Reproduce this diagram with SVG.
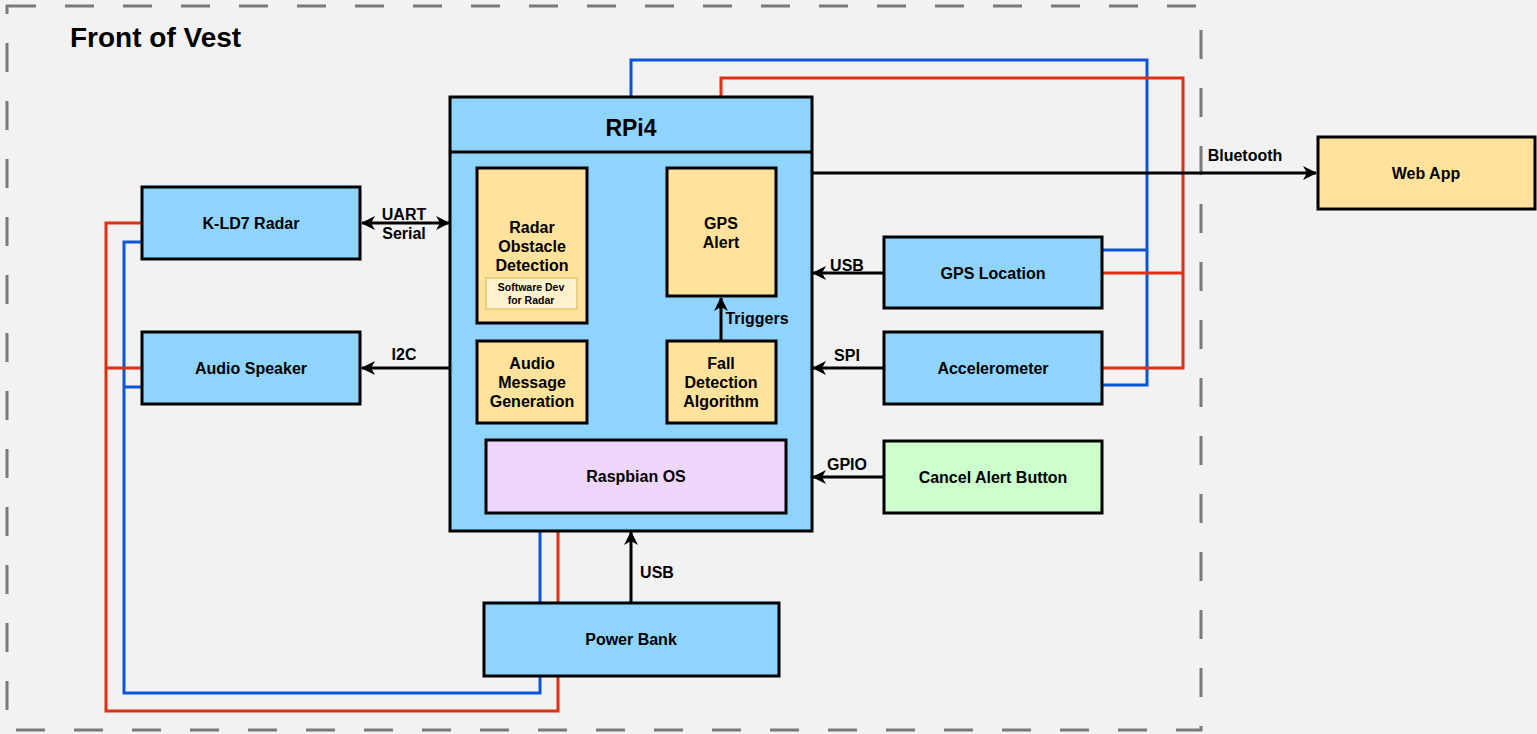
<svg xmlns="http://www.w3.org/2000/svg" width="1537" height="734" viewBox="0 0 1537 734">
<style>
text{font-family:"Liberation Sans",Arial,sans-serif;font-weight:bold;fill:#000}
.n{font-size:16px;text-anchor:middle}
.l{font-size:16px;text-anchor:middle}
.blue{fill:#8fd4fc;stroke:#000;stroke-width:3}
.yel{fill:#ffe29b;stroke:#000;stroke-width:3}
.pw{fill:none;stroke-width:3}
.b{stroke:#0a56d8}
.r{stroke:#de2f10}
.k{fill:none;stroke:#000;stroke-width:3}
</style>
<defs>
<marker id="ah" viewBox="0 0 14 14" refX="13" refY="7" markerWidth="14" markerHeight="14" markerUnits="userSpaceOnUse" orient="auto-start-reverse">
<path d="M0,0 L14,7 L0,14 L4,7 z" fill="#000"/>
</marker>
</defs>
<rect width="1537" height="734" fill="#f2f2f2"/>
<rect x="7" y="6" width="1194" height="724" fill="none" stroke="#7a7a7a" stroke-width="3" stroke-dasharray="29 29"/>
<text x="70" y="47" style="font-size:28px">Front of Vest</text>

<g id="connectors">
<polyline class="pw b" points="631,97 631,60 1147,60 1147,385 1102,385"/>
<polyline class="pw b" points="1102,250 1147,250"/>
<polyline class="pw r" points="721,97 721,78 1183,78 1183,368 1102,368"/>
<polyline class="pw r" points="1102,273 1183,273"/>
<polyline class="pw b" points="540,531 540,603"/>
<polyline class="pw r" points="558,531 558,603"/>
<polyline class="pw b" points="540,676 540,693 124,693 124,242 142,242"/>
<polyline class="pw b" points="124,387 142,387"/>
<polyline class="pw r" points="558,676 558,711 106,711 106,223 142,223"/>
<polyline class="pw r" points="106,368 142,368"/>
<line class="k" x1="362" y1="223" x2="449" y2="223" marker-start="url(#ah)" marker-end="url(#ah)"/>
<text class="l" x="404" y="220">UART</text>
<text class="l" x="404" y="239">Serial</text>
<line class="k" x1="449" y1="368" x2="362" y2="368" marker-end="url(#ah)"/>
<text class="l" x="404" y="360">I2C</text>
<line class="k" x1="812" y1="173" x2="1316" y2="173" marker-end="url(#ah)"/>
<text class="l" x="1245" y="161">Bluetooth</text>
<line class="k" x1="884" y1="273" x2="813" y2="273" marker-end="url(#ah)"/>
<text class="l" x="847" y="271">USB</text>
<line class="k" x1="884" y1="368" x2="813" y2="368" marker-end="url(#ah)"/>
<text class="l" x="847" y="361">SPI</text>
<line class="k" x1="884" y1="477" x2="813" y2="477" marker-end="url(#ah)"/>
<text class="l" x="847" y="470">GPIO</text>
<line class="k" x1="631" y1="603" x2="631" y2="532" marker-end="url(#ah)"/>
<text class="l" x="657" y="578">USB</text>
</g>

<g id="rpi4">
<rect class="blue" x="450" y="97" width="362" height="434"/>
<line x1="450" y1="152" x2="812" y2="152" stroke="#000" stroke-width="3"/>
<text x="631" y="136" style="font-size:23px;text-anchor:middle">RPi4</text>
</g>
<line class="k" x1="721" y1="341" x2="721" y2="298" marker-end="url(#ah)"/>
<text class="l" x="757" y="324">Triggers</text>

<g id="radar-sw">
<rect class="yel" x="477" y="168" width="110" height="155"/>
<text class="n" x="532" y="233">Radar</text>
<text class="n" x="532" y="252">Obstacle</text>
<text class="n" x="532" y="271">Detection</text>
<rect x="486" y="278" width="91" height="31" fill="#fff2cc" stroke="#d6b656" stroke-width="1"/>
<text x="531" y="291" style="font-size:10.5px;text-anchor:middle">Software Dev</text>
<text x="531" y="304" style="font-size:10.5px;text-anchor:middle">for Radar</text>
</g>
<g id="gps-alert">
<rect class="yel" x="667" y="168" width="109" height="128"/>
<text class="n" x="721" y="229">GPS</text>
<text class="n" x="721" y="248">Alert</text>
</g>
<g id="audio-msg">
<rect class="yel" x="477" y="341" width="110" height="82"/>
<text class="n" x="532" y="369">Audio</text>
<text class="n" x="532" y="388">Message</text>
<text class="n" x="532" y="407">Generation</text>
</g>
<g id="fall-det">
<rect class="yel" x="667" y="341" width="109" height="82"/>
<text class="n" x="721" y="369">Fall</text>
<text class="n" x="721" y="388">Detection</text>
<text class="n" x="721" y="407">Algorithm</text>
</g>
<g id="raspbian">
<rect x="486" y="440" width="300" height="73" fill="#efd6fd" stroke="#000" stroke-width="3"/>
<text class="n" x="636" y="482">Raspbian OS</text>
</g>

<g id="kld7">
<rect class="blue" x="142" y="187" width="218" height="72"/>
<text class="n" x="251" y="229">K-LD7 Radar</text>
</g>
<g id="speaker">
<rect class="blue" x="142" y="332" width="218" height="72"/>
<text class="n" x="251" y="374">Audio Speaker</text>
</g>
<g id="power-bank">
<rect class="blue" x="484" y="603" width="295" height="73"/>
<text class="n" x="631" y="645">Power Bank</text>
</g>
<g id="gps-loc">
<rect class="blue" x="884" y="237" width="218" height="71"/>
<text class="n" x="993" y="279">GPS Location</text>
</g>
<g id="accel">
<rect class="blue" x="884" y="332" width="218" height="72"/>
<text class="n" x="993" y="374">Accelerometer</text>
</g>
<g id="cancel-btn">
<rect x="884" y="441" width="218" height="72" fill="#ccffcc" stroke="#000" stroke-width="3"/>
<text class="n" x="993" y="483">Cancel Alert Button</text>
</g>
<g id="web-app">
<rect class="yel" x="1318" y="137" width="217" height="72"/>
<text class="n" x="1426" y="179">Web App</text>
</g>
</svg>
